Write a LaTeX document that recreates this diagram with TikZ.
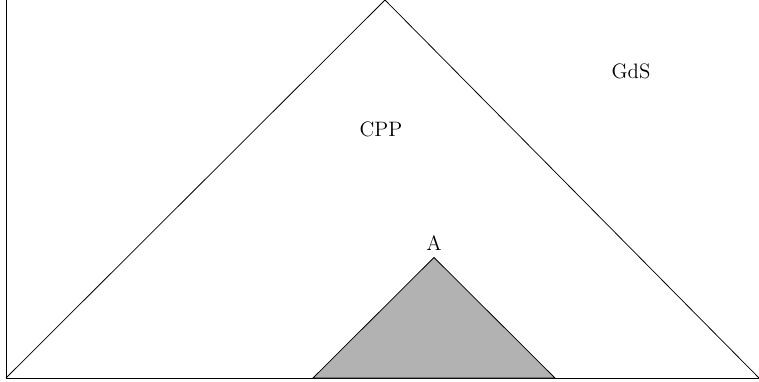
\documentclass[tikz,border=0pt]{standalone}
\usepackage{xcolor}
\usepackage{tikz}
\usetikzlibrary{calc}

\begin{document}
\begin{tikzpicture}[x=0.01852cm,y=-0.01852cm,
  every node/.style={font=\fontsize{11}{13}\selectfont}]
\useasboundingbox (0,0) rectangle (759,381);
% frame
\coordinate (top) at (6,0);
\coordinate (O) at (6,378);
\coordinate (end) at (759,378);
\draw (top) -- (O) -- (end);
% big cone
\coordinate (apex) at (385,0);
\draw (O) -- (apex) -- (end);
% shaded region
\coordinate (Al) at (313,378);
\coordinate (A) at (434,257.5);
\coordinate (Ar) at (555,378);
\filldraw[fill=black!30] (Al) -- (A) -- (Ar) -- cycle;
\node[above] (lblA) at (A) {A};
\node (cpp) at (381,129) {CPP};
\node (gds) at (631,71) {GdS};
\end{tikzpicture}
\end{document}
